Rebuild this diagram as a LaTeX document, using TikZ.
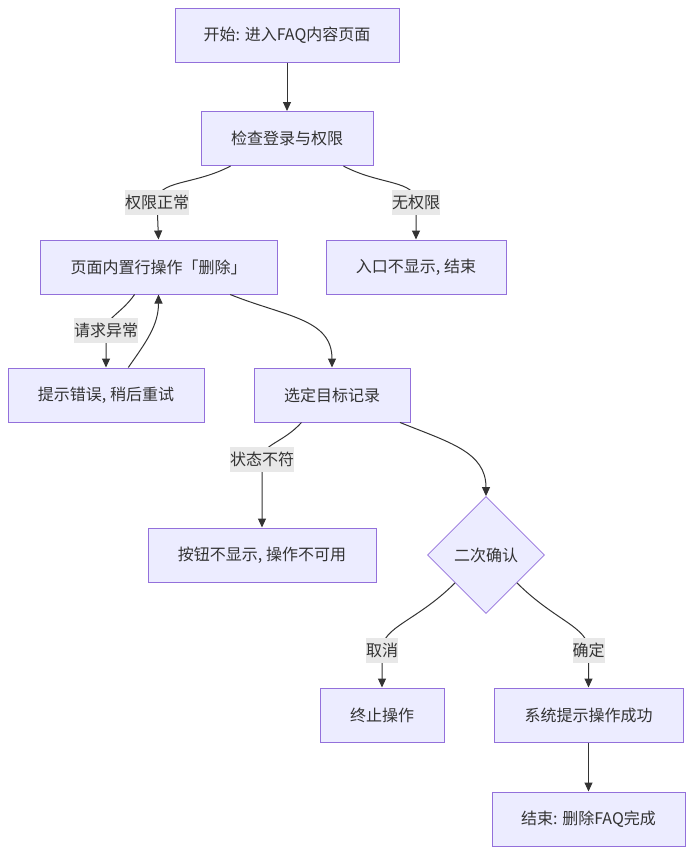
\documentclass[tikz,border=0pt]{standalone}
\usepackage{fontspec}
\setmainfont{Noto Sans CJK SC}
\usetikzlibrary{arrows.meta,shapes.geometric}
\definecolor{boxfill}{HTML}{ECECFF}
\definecolor{boxline}{HTML}{9370DB}
\definecolor{inkgrey}{HTML}{333333}
\definecolor{lblfill}{HTML}{E8E8E8}

\begin{document}
\begin{tikzpicture}[x=1pt, y=1pt,
	box/.style={draw=boxline, fill=boxfill, line width=1pt, minimum height=54pt, inner sep=0pt, text=inkgrey, font=\fontsize{16}{19}\selectfont},
	choice/.style={diamond, draw=boxline, fill=boxfill, line width=0.8pt, minimum width=117pt, minimum height=117pt, inner sep=0pt, text=inkgrey, font=\fontsize{16}{19}\selectfont},
	flow/.style={draw=inkgrey, line width=1pt, -{Triangle[length=9pt,width=8pt]}},
	lbl/.style={fill=lblfill, text=inkgrey, inner sep=0pt, minimum height=25pt, font=\fontsize{16}{19}\selectfont}]
	%%%%% START %%%%%
	
	\useasboundingbox (0, 0) rectangle (692, -854);
	
	\node[box, minimum width=224pt] (start) at (287, -35) {开始: 进入FAQ内容页面};
	\node[box, minimum width=172pt] (check) at (287, -138.5) {检查登录与权限};
	\node[box, minimum width=237pt] (inline) at (158.5, -267) {页面内置行操作「删除」};
	\node[box, minimum width=180pt] (noperm) at (416, -267) {入口不显示, 结束};
	\node[box, minimum width=196pt] (retry) at (106, -395) {提示错误, 稍后重试};
	\node[box, minimum width=156pt] (pick) at (332, -395) {选定目标记录};
	\node[box, minimum width=228pt] (hidden) at (262, -555) {按钮不显示, 操作不可用};
	\node[choice] (confirm) at (486, -555) {二次确认};
	\node[box, minimum width=124pt] (abort) at (382, -715) {终止操作};
	\node[box, minimum width=189pt] (success) at (588.5, -715) {系统提示操作成功};
	\node[box, minimum width=193pt] (done) at (588.5, -819) {结束: 删除FAQ完成};
	
	\coordinate (ok) at (157, -202);
	\coordinate (deny) at (416, -202);
	\coordinate (fail) at (106, -330);
	\coordinate (bad) at (262, -459);
	\coordinate (no) at (382, -650);
	\coordinate (yes) at (588.5, -650);
	
	\draw[flow] (start) -- (check);
	\draw[flow] (check.206) to[out=208, in=90, out looseness=1.3, in looseness=0.7] (ok) -- (inline.north);
	\draw[flow] (check.334) to[out=-28, in=90, out looseness=1.3, in looseness=0.7] (deny) -- (noperm.north);
	\draw[flow] (inline.229) to[out=235, in=90, out looseness=1.3, in looseness=0.7] (fail) -- (retry.north);
	\draw[flow] (retry.51) to[out=55, in=-90] (inline.south);
	\draw[flow] (inline.339) to[out=-22, in=90, out looseness=1.2] (pick.north);
	\draw[flow] (pick.222) to[out=228, in=90, out looseness=1.3, in looseness=0.7] (bad) -- (hidden.north);
	\draw[flow] (pick.338) to[out=-22, in=90, out looseness=1.2] (confirm.north);
	\draw[flow] (confirm.222) to[out=225, in=90, out looseness=1.4, in looseness=0.6] (no) -- (abort.north);
	\draw[flow] (confirm.318) to[out=-45, in=90, out looseness=1.4, in looseness=0.6] (yes) -- (success.north);
	\draw[flow] (success) -- (done);
	
	\node[lbl] (okt) at (ok) {权限正常};
	\node[lbl] (denyt) at (deny) {无权限};
	\node[lbl] (failt) at (fail) {请求异常};
	\node[lbl] (badt) at (bad) {状态不符};
	\node[lbl] (not) at (no) {取消};
	\node[lbl] (yest) at (yes) {确定};
	
	%%%%% END %%%%%
\end{tikzpicture}
\end{document}
